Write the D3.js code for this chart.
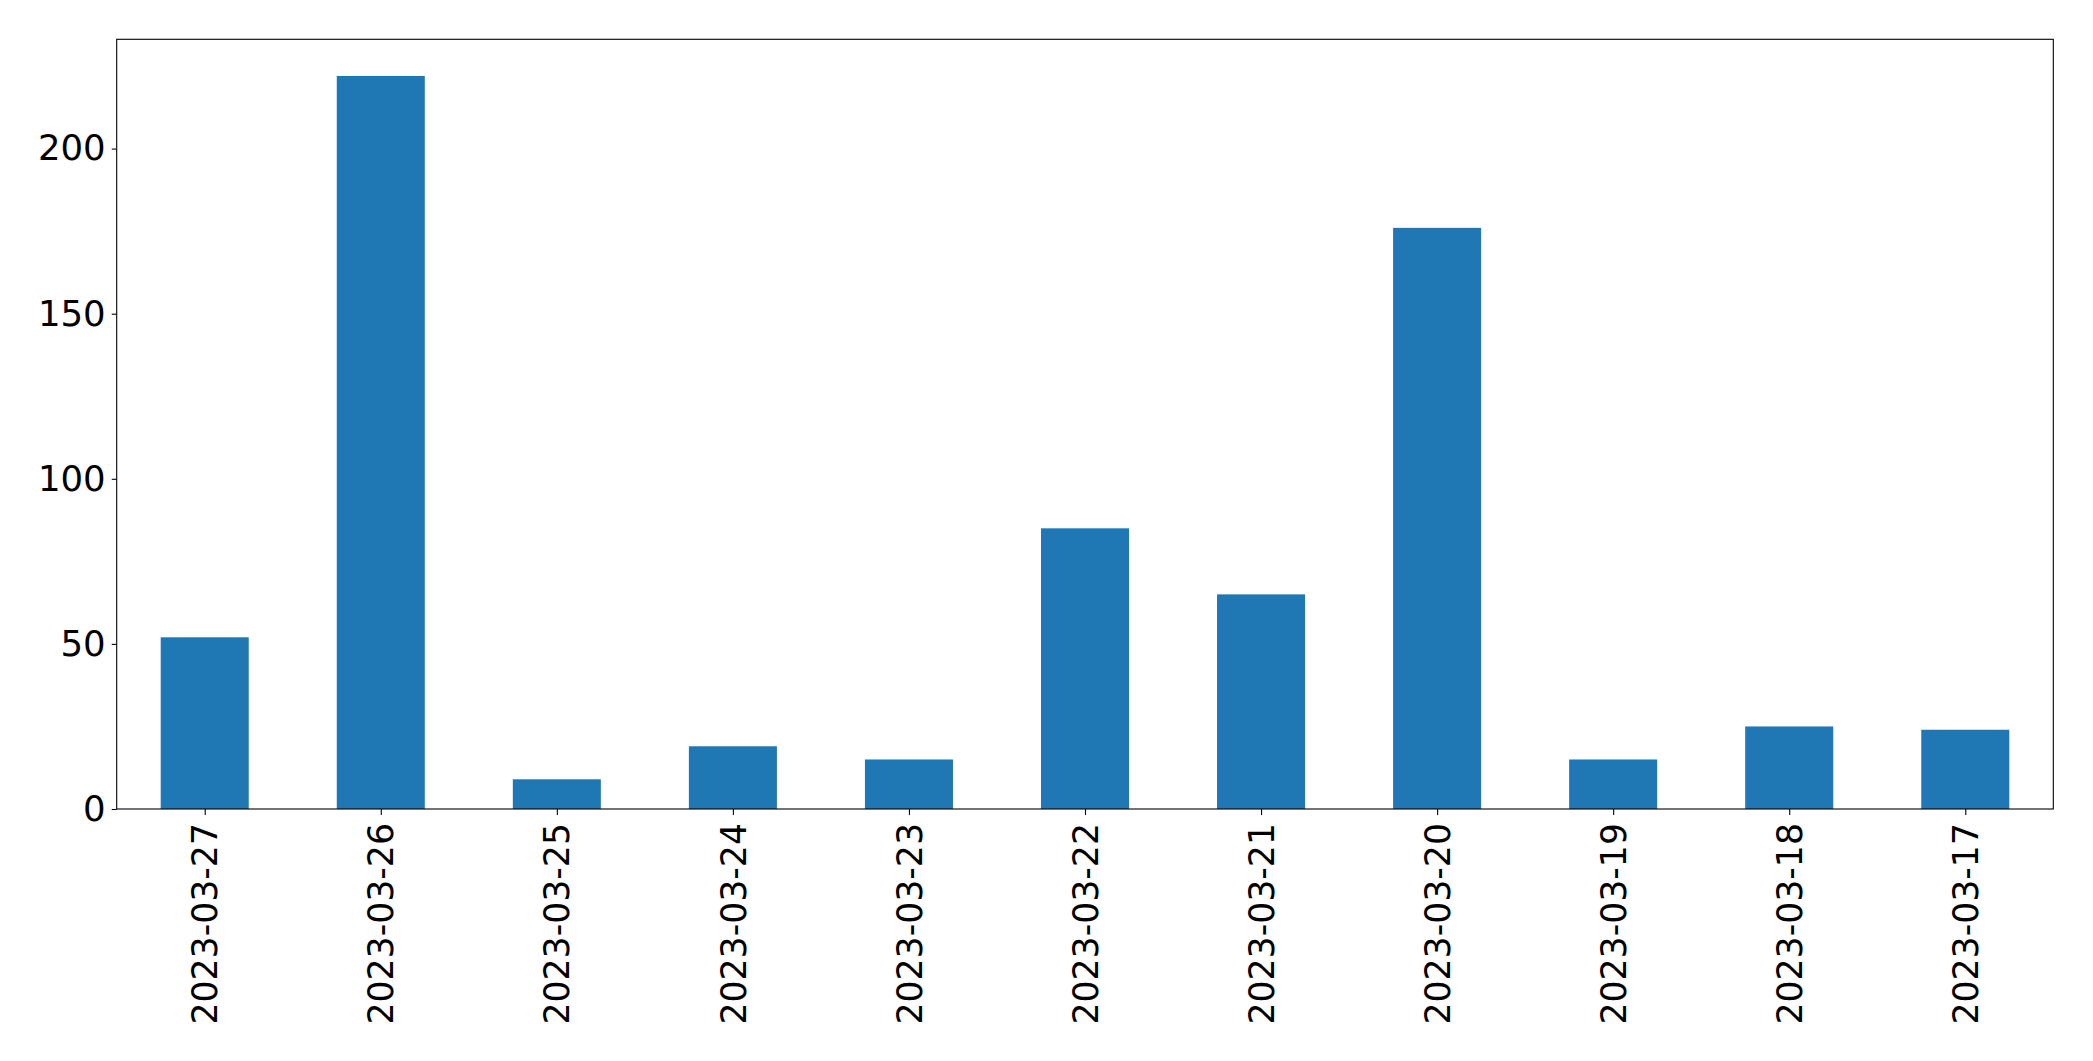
<!DOCTYPE html>
<html>
<head>
<meta charset="utf-8">
<script src="https://cdn.jsdelivr.net/npm/d3@7"></script>
<style>
  html, body { margin: 0; padding: 0; background: #fff; }
  svg { display: block; }
  text { font-family: "DejaVu Sans", sans-serif; }
</style>
</head>
<body>
<svg id="chart" width="2093" height="1061"></svg>
<script>
const categories = ["2023-03-27","2023-03-26","2023-03-25","2023-03-24","2023-03-23","2023-03-22","2023-03-21","2023-03-20","2023-03-19","2023-03-18","2023-03-17"];
const values = [52, 222, 9, 19, 15, 85, 65, 176, 15, 25, 24];
const yTicks = [0, 50, 100, 150, 200];

(function () {
const W = 2093, H = 1061;
const mLeft = 116.7, mRight = 2053.3, mTop = 39.3, mBottom = 809;
const yFontSize = 35.5;
const xFontSize = 34.7;
const barColor = "#1f77b4";

const svg = d3.select("#chart");
svg.append("rect").attr("width", W).attr("height", H).attr("fill", "#fff");

const n = categories.length;
const x = d3.scaleLinear().domain([-0.5, n - 0.5]).range([mLeft, mRight]);
const yMax = d3.max(values) * 1.05;
const y = d3.scaleLinear().domain([0, yMax]).range([mBottom, mTop]);

// bars
svg.append("g").selectAll("rect").data(values).join("rect")
  .attr("x", (d, i) => x(i - 0.25))
  .attr("width", (d, i) => x(i + 0.25) - x(i - 0.25))
  .attr("y", d => y(d))
  .attr("height", d => y(0) - y(d))
  .attr("fill", barColor);

// y axis
const yAxis = d3.axisLeft(y).tickValues(yTicks).tickSize(5).tickPadding(6).tickFormat(d3.format("d"));
const gy = svg.append("g").attr("transform", `translate(${mLeft},0)`).call(yAxis);
gy.select(".domain").remove();
gy.selectAll(".tick line").attr("stroke", "#000").attr("stroke-width", 1.1);
gy.selectAll(".tick text").attr("fill", "#000").style("font-size", yFontSize + "px")
  .style("font-family", "DejaVu Sans, sans-serif");

// x axis
const xAxis = d3.axisBottom(x).tickValues(d3.range(n)).tickSize(6).tickPadding(0)
  .tickFormat(i => categories[i]);
const gx = svg.append("g").attr("transform", `translate(0,${mBottom})`).call(xAxis);
gx.select(".domain").remove();
gx.selectAll(".tick line").attr("stroke", "#000").attr("stroke-width", 1.1);
gx.selectAll(".tick text")
  .attr("fill", "#000")
  .style("font-size", xFontSize + "px")
  .style("font-family", "DejaVu Sans, sans-serif")
  .attr("transform", "translate(0,14) rotate(-90)")
  .attr("text-anchor", "end")
  .attr("x", 0)
  .attr("y", 0)
  .attr("dy", "0.35em");

// frame
svg.append("rect")
  .attr("x", mLeft).attr("y", mTop)
  .attr("width", mRight - mLeft).attr("height", mBottom - mTop)
  .attr("fill", "none").attr("stroke", "#000").attr("stroke-width", 1.1);
})();
</script>
</body>
</html>
